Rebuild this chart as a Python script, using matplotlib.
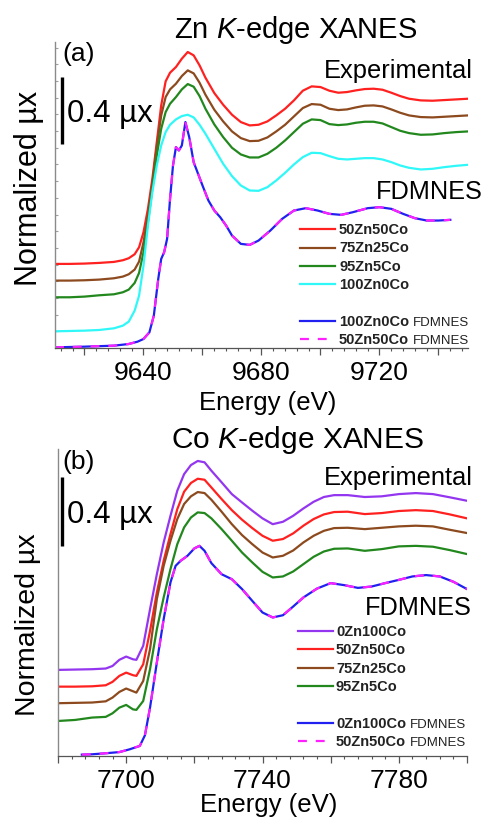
import matplotlib
matplotlib.use("Agg")
import matplotlib.pyplot as plt
from matplotlib.lines import Line2D
from matplotlib.transforms import blended_transform_factory

plt.rcParams['font.family'] = ['Liberation Sans', 'DejaVu Sans']
plt.rcParams['mathtext.fontset'] = 'custom'
plt.rcParams['mathtext.rm'] = 'Liberation Sans'
plt.rcParams['mathtext.it'] = 'Liberation Sans:italic'
plt.rcParams['mathtext.bf'] = 'Liberation Sans:bold'

# ---------------- Zn K-edge (a) ----------------
energy_zn = [9610, 9615, 9620, 9625, 9630, 9633, 9635, 9637, 9638.5, 9640, 9641.5, 9643,
             9644.5, 9646, 9647.5, 9649, 9651, 9653, 9655, 9657, 9659, 9661, 9664, 9667,
             9670, 9673, 9676, 9679, 9682, 9685, 9688, 9691, 9694, 9697, 9700, 9703,
             9706, 9709, 9712, 9715, 9718, 9721, 9724, 9727, 9730, 9734, 9738, 9742, 9746, 9750]
zn_50zn50co = [0.504, 0.504, 0.506, 0.510, 0.516, 0.526, 0.538, 0.562, 0.604, 0.694, 0.834, 1.014,
               1.234, 1.454, 1.598, 1.650, 1.684, 1.734, 1.774, 1.754, 1.694, 1.620, 1.528, 1.458,
               1.398, 1.354, 1.334, 1.338, 1.358, 1.394, 1.434, 1.484, 1.542, 1.568, 1.564, 1.542,
               1.530, 1.534, 1.544, 1.552, 1.554, 1.548, 1.530, 1.510, 1.494, 1.484, 1.482, 1.486, 1.490, 1.494]
zn_75zn25co = [0.404, 0.404, 0.406, 0.410, 0.418, 0.428, 0.442, 0.470, 0.518, 0.634, 0.794, 0.984,
               1.204, 1.394, 1.504, 1.550, 1.584, 1.630, 1.664, 1.646, 1.590, 1.518, 1.428, 1.358,
               1.298, 1.258, 1.240, 1.242, 1.262, 1.298, 1.338, 1.388, 1.438, 1.462, 1.458, 1.434,
               1.426, 1.430, 1.442, 1.452, 1.454, 1.448, 1.430, 1.410, 1.394, 1.384, 1.382, 1.386, 1.390, 1.394]
zn_95zn5co = [0.304, 0.304, 0.308, 0.316, 0.322, 0.334, 0.350, 0.390, 0.450, 0.574, 0.754, 0.954,
              1.154, 1.314, 1.414, 1.464, 1.504, 1.550, 1.582, 1.566, 1.510, 1.434, 1.340, 1.264,
              1.200, 1.160, 1.142, 1.142, 1.164, 1.200, 1.244, 1.294, 1.344, 1.370, 1.366, 1.342,
              1.336, 1.340, 1.350, 1.356, 1.356, 1.346, 1.324, 1.302, 1.288, 1.278, 1.280, 1.288, 1.294, 1.298]
zn_100zn0co = [0.100, 0.102, 0.104, 0.108, 0.118, 0.134, 0.158, 0.224, 0.314, 0.494, 0.734, 0.934,
               1.094, 1.214, 1.294, 1.338, 1.370, 1.390, 1.398, 1.382, 1.338, 1.284, 1.194, 1.104,
               1.030, 0.974, 0.944, 0.942, 0.964, 1.004, 1.050, 1.100, 1.144, 1.170, 1.168, 1.150,
               1.134, 1.130, 1.134, 1.138, 1.138, 1.130, 1.114, 1.094, 1.080, 1.070, 1.074, 1.084, 1.092, 1.098]

energy_zn_fd = [9610, 9620, 9630, 9635, 9638, 9640, 9642, 9643.5, 9645, 9646, 9647, 9648,
                9649, 9650, 9651, 9652, 9653, 9654.2, 9655.5, 9657, 9660, 9662, 9664, 9666,
                9668, 9670, 9673, 9676, 9679, 9683, 9687, 9691, 9695, 9699, 9703, 9707,
                9711, 9716, 9720, 9724, 9728, 9732, 9736, 9740, 9744]
zn_fd_100zn0co = [0.004, 0.008, 0.014, 0.024, 0.038, 0.054, 0.094, 0.194, 0.414, 0.534, 0.574, 0.654,
                  0.894, 1.094, 1.204, 1.184, 1.214, 1.354, 1.264, 1.114, 0.974, 0.884, 0.824, 0.784,
                  0.734, 0.674, 0.624, 0.618, 0.644, 0.704, 0.774, 0.824, 0.838, 0.824, 0.804, 0.798,
                  0.814, 0.838, 0.844, 0.834, 0.804, 0.778, 0.764, 0.764, 0.768]
zn_fd_50zn50co = list(zn_fd_100zn0co)

# ---------------- Co K-edge (b) ----------------
energy_co = [7680, 7685, 7690, 7694, 7696, 7698, 7700, 7702, 7703, 7705, 7707, 7709,
             7711, 7713, 7715, 7717, 7719, 7721, 7723, 7725, 7728, 7731, 7734, 7737,
             7740, 7743, 7746, 7749, 7752, 7755, 7758, 7761, 7765, 7770, 7775, 7780,
             7785, 7790, 7795, 7800]
co_0zn100co = [0.504, 0.506, 0.508, 0.512, 0.527, 0.563, 0.582, 0.566, 0.563, 0.645, 0.859, 1.064,
               1.250, 1.406, 1.553, 1.650, 1.703, 1.727, 1.719, 1.670, 1.602, 1.533, 1.484, 1.436,
               1.391, 1.357, 1.371, 1.406, 1.449, 1.488, 1.516, 1.527, 1.527, 1.516, 1.520, 1.533,
               1.539, 1.533, 1.514, 1.494]
co_50zn50co = [0.406, 0.406, 0.408, 0.414, 0.434, 0.469, 0.488, 0.473, 0.469, 0.537, 0.732, 0.957,
               1.143, 1.299, 1.445, 1.547, 1.598, 1.623, 1.617, 1.572, 1.504, 1.439, 1.383, 1.334,
               1.289, 1.260, 1.270, 1.303, 1.348, 1.387, 1.414, 1.428, 1.430, 1.416, 1.422, 1.434,
               1.439, 1.434, 1.414, 1.391]
co_75zn25co = [0.309, 0.311, 0.313, 0.320, 0.342, 0.375, 0.395, 0.379, 0.371, 0.439, 0.625, 0.918,
               1.113, 1.260, 1.387, 1.475, 1.520, 1.545, 1.539, 1.500, 1.430, 1.357, 1.293, 1.240,
               1.191, 1.162, 1.172, 1.203, 1.250, 1.289, 1.318, 1.334, 1.336, 1.328, 1.336, 1.344,
               1.348, 1.344, 1.324, 1.305]
co_95zn5co = [0.205, 0.211, 0.225, 0.229, 0.250, 0.283, 0.299, 0.273, 0.270, 0.322, 0.508, 0.742,
              0.928, 1.094, 1.240, 1.338, 1.396, 1.426, 1.422, 1.391, 1.328, 1.260, 1.191, 1.133,
              1.078, 1.045, 1.051, 1.080, 1.123, 1.166, 1.197, 1.213, 1.215, 1.201, 1.211, 1.227,
              1.230, 1.225, 1.205, 1.182]

energy_co_fd = [7687, 7690, 7694, 7698, 7701, 7704, 7705.5, 7707, 7709, 7711, 7713, 7714.5,
                7716, 7718, 7720, 7721.5, 7723, 7725, 7728, 7731, 7734, 7737, 7740, 7743,
                7746, 7749, 7752, 7756, 7760, 7764, 7768, 7772, 7776, 7780, 7784, 7788,
                7792, 7796, 7800]
co_fd_0zn100co = [0.008, 0.010, 0.016, 0.023, 0.039, 0.059, 0.121, 0.283, 0.547, 0.801, 1.016, 1.113,
                  1.143, 1.172, 1.215, 1.230, 1.201, 1.129, 1.064, 1.035, 0.977, 0.908, 0.840, 0.811,
                  0.824, 0.875, 0.928, 0.980, 1.012, 1.000, 0.984, 0.992, 1.012, 1.031, 1.051, 1.059,
                  1.051, 1.020, 0.977]
co_fd_50zn50co = list(co_fd_0zn100co)

zn_ticklabels = [9640, 9680, 9720]
co_ticklabels = [7700, 7740, 7780]

RED = '#ff2020'
BROWN = '#8c4a1e'
GREEN = '#22881e'
CYAN = '#30f8f8'
PURPLE = '#9436f0'
BLUE = '#2020f0'
MAGENTA = '#ff20ff'

W, H = 486, 820


def fx(px):
    return px / W


def fy(py):
    return 1 - py / H


fig = plt.figure(figsize=(W / 100, H / 100), dpi=100)


def make_axes(left, top, right, bottom, xlim, ylim, ticklabels):
    ax = fig.add_axes([fx(left), fy(bottom), fx(right) - fx(left), fy(top) - fy(bottom)])
    ax.set_xlim(*xlim)
    ax.set_ylim(*ylim)
    for s in ['top', 'right']:
        ax.spines[s].set_visible(False)
    ax.spines['left'].set_color('#8a8a8a')
    ax.spines['left'].set_linewidth(1.0)
    ax.spines['bottom'].set_color('#555555')
    ax.spines['bottom'].set_linewidth(0.9)
    start20 = -(-xlim[0] // 20) * 20
    start4 = -(-xlim[0] // 4) * 4
    major = list(range(start20, xlim[1] + 1, 20))
    minor = list(range(start4, xlim[1] + 1, 4))
    ax.set_xticks(major)
    ax.set_xticks(minor, minor=True)
    ax.set_xticklabels([str(t) if t in ticklabels else '' for t in major])
    ax.tick_params(axis='x', which='major', direction='out', length=5, width=0.9,
                   color='#555555', labelsize=19, pad=4)
    ax.tick_params(axis='x', which='minor', direction='out', length=2.5, width=0.8,
                   color='#555555')
    ax.set_yticks([])
    return ax


def legend_rows(x0, x1, xt, rows):
    for y, color, ls, name, extra in rows:
        ln = Line2D([fx(x0), fx(x1)], [fy(y), fy(y)], transform=fig.transFigure,
                    color=color, lw=1.6, linestyle=ls)
        fig.add_artist(ln)
        t = fig.text(fx(xt), fy(y), name, fontsize=10.5, fontweight='bold',
                     ha='left', va='center', color='#222222')
        if extra:
            plt.annotate(extra, xy=(1, 0), xycoords=t, xytext=(2.5, 0),
                         textcoords='offset points', ha='left', va='bottom',
                         fontsize=9.5, color='#222222', annotation_clip=False)


def scale_bar(ax, xpx, y0, y1):
    trans = blended_transform_factory(fig.transFigure, ax.transData)
    ax.plot([fx(xpx), fx(xpx)], [y0, y1], transform=trans, color='black',
            lw=2.4, solid_capstyle='butt', clip_on=False)


# ---------- panel (a) ----------
ax1 = make_axes(55, 43, 468, 349, (9610, 9750), (0, 1.834), zn_ticklabels)
ax1.set_yticks([i / 10 for i in range(0, 19)], minor=True)
ax1.tick_params(axis='y', which='minor', direction='in', length=2, width=0.8,
                color='#a0a0a0', left=True)
ax1.plot(energy_zn, zn_50zn50co, color=RED, lw=1.6)
ax1.plot(energy_zn, zn_75zn25co, color=BROWN, lw=1.6)
ax1.plot(energy_zn, zn_95zn5co, color=GREEN, lw=1.6)
ax1.plot(energy_zn, zn_100zn0co, color=CYAN, lw=1.6)
ax1.plot(energy_zn_fd, zn_fd_100zn0co, color=BLUE, lw=1.6)
ax1.plot(energy_zn_fd, zn_fd_50zn50co, color=MAGENTA, lw=1.6, dashes=(4, 4))
scale_bar(ax1, 62, 1.224, 1.624)

fig.text(fx(296), fy(38), r'Zn $\mathit{K}$-edge XANES', fontsize=21, ha='center', va='baseline')
fig.text(fx(62), fy(61), '(a)', fontsize=19, ha='left', va='baseline')
fig.text(fx(473), fy(78), 'Experimental', fontsize=18.4, ha='right', va='baseline')
fig.text(fx(67), fy(122), '0.4 \u00b5x', fontsize=22.5, ha='left', va='baseline')
fig.text(fx(483), fy(199), 'FDMNES', fontsize=18.2, ha='right', va='baseline')
fig.text(fx(37), fy(188), 'Normalized \u00b5x', fontsize=22, rotation=90,
         ha='center', va='baseline', rotation_mode='anchor')
fig.text(fx(268), fy(410), 'Energy (eV)', fontsize=18.5, ha='center', va='baseline')

legend_rows(300, 335, 339, [
    (230, RED, '-', '50Zn50Co', None),
    (248.5, BROWN, '-', '75Zn25Co', None),
    (267, GREEN, '-', '95Zn5Co', None),
    (285, CYAN, '-', '100Zn0Co', None),
    (322, BLUE, '-', '100Zn0Co', 'FDMNES'),
    (340, MAGENTA, (0, (4, 4)), '50Zn50Co', 'FDMNES'),
])

# ---------- panel (b) ----------
ax2 = make_axes(58, 450, 467, 757, (7680, 7800), (0, 1.797), co_ticklabels)
ax2.plot(energy_co, co_0zn100co, color=PURPLE, lw=1.6)
ax2.plot(energy_co, co_50zn50co, color=RED, lw=1.6)
ax2.plot(energy_co, co_75zn25co, color=BROWN, lw=1.6)
ax2.plot(energy_co, co_95zn5co, color=GREEN, lw=1.6)
ax2.plot(energy_co_fd, co_fd_0zn100co, color=BLUE, lw=1.6)
ax2.plot(energy_co_fd, co_fd_50zn50co, color=MAGENTA, lw=1.6, dashes=(4, 4))
scale_bar(ax2, 62, 1.230, 1.631)

fig.text(fx(298), fy(448), r'Co $\mathit{K}$-edge XANES', fontsize=21.5, ha='center', va='baseline')
fig.text(fx(62), fy(469), '(b)', fontsize=19, ha='left', va='baseline')
fig.text(fx(473), fy(485), 'Experimental', fontsize=18.4, ha='right', va='baseline')
fig.text(fx(67), fy(523), '0.4 \u00b5x', fontsize=22.5, ha='left', va='baseline')
fig.text(fx(472), fy(615), 'FDMNES', fontsize=18.2, ha='right', va='baseline')
fig.text(fx(35), fy(625), 'Normalized \u00b5x', fontsize=20.5, rotation=90,
         ha='center', va='baseline', rotation_mode='anchor')
fig.text(fx(269), fy(812), 'Energy (eV)', fontsize=18.5, ha='center', va='baseline')

legend_rows(298, 333, 336, [
    (632, PURPLE, '-', '0Zn100Co', None),
    (650, RED, '-', '50Zn50Co', None),
    (669, BROWN, '-', '75Zn25Co', None),
    (687, GREEN, '-', '95Zn5Co', None),
    (724, BLUE, '-', '0Zn100Co', 'FDMNES'),
    (742, MAGENTA, (0, (4, 4)), '50Zn50Co', 'FDMNES'),
])

fig.savefig('out.png', dpi=100)
